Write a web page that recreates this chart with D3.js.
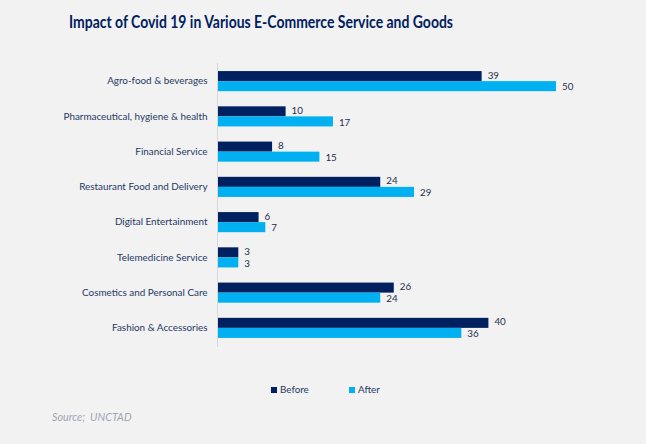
<!DOCTYPE html>
<html><head><meta charset="utf-8">
<script src="https://cdn.jsdelivr.net/npm/d3@7"></script>
<style>body{margin:0;background:#f2f2f2;}svg{display:block;}</style>
</head><body>
<svg id="c" width="646" height="444"></svg>
<script>
const categories = ["Agro-food & beverages","Pharmaceutical, hygiene & health","Financial Service","Restaurant Food and Delivery","Digital Entertainment","Telemedicine Service","Cosmetics and Personal Care","Fashion & Accessories"];
const beforeValues = [39,10,8,24,6,3,26,40];
const afterValues = [50,17,15,29,7,3,24,36];
const seriesNames = ["Before","After"];
const colors = ["#002060","#00b0f0"];
const title = "Impact of Covid 19 in Various E-Commerce Service and Goods";
const source = "Source;  UNCTAD";

const svg = d3.select("#c");
svg.append("rect").attr("width",646).attr("height",444).attr("fill","#f2f2f2");

const x = d3.scaleLinear().domain([0,50]).range([218,556]);
const y = d3.scaleBand().domain(categories).range([63.5,345.5]).paddingInner(0.43).paddingOuter(0.215);
const ys = d3.scaleBand().domain(seriesNames).range([0,y.bandwidth()]);

svg.append("text").attr("x",261).attr("y",27.5).attr("text-anchor","middle")
  .attr("font-family","Lato").attr("font-weight","bold").attr("font-size",16.5)
  .attr("fill","#002060").attr("textLength",384).attr("lengthAdjust","spacingAndGlyphs").text(title);

const data = categories.map((c,i)=>({c, vals:[beforeValues[i],afterValues[i]]}));
const g = svg.append("g");
data.forEach(d=>{
  d.vals.forEach((v,j)=>{
    const yy = y(d.c)+ys(seriesNames[j]);
    g.append("rect").attr("x",x(0)).attr("y",yy).attr("width",x(v)-x(0)).attr("height",ys.bandwidth()).attr("fill",colors[j]);
    g.append("text").attr("x",x(v)+6).attr("y",yy+ys.bandwidth()/2 + (j===0?-0.8:0.8)).attr("dy","0.35em")
      .attr("font-family","Lato").attr("font-size",9.8).attr("fill","#1f2d4e").text(v);
  });
});

const axis = svg.append("g").attr("transform",`translate(${x(0)-0.5},0)`)
  .call(d3.axisLeft(y).tickSize(0).tickPadding(10));
axis.select(".domain").attr("stroke","#d9d9d9").attr("d",`M0,${63}V${347}`);
axis.selectAll("text").attr("font-family","Lato").attr("font-size",9.9).attr("fill","#1f3864");

const legend = svg.append("g");
const lx = [271,349];
seriesNames.forEach((s,j)=>{
  legend.append("rect").attr("x",lx[j]).attr("y",387).attr("width",6).attr("height",6).attr("fill",colors[j]);
  legend.append("text").attr("x",lx[j]+9).attr("y",390).attr("dy","0.35em")
    .attr("font-family","Lato").attr("font-size",9.8).attr("fill","#1f3864").text(s);
});

svg.append("text").attr("x",52).attr("y",421).attr("font-family","Lato").attr("font-style","italic")
  .attr("font-size",10.8).attr("fill","#9ea6b4").attr("xml:space","preserve").style("white-space","pre").text(source);
</script>
</body></html>
